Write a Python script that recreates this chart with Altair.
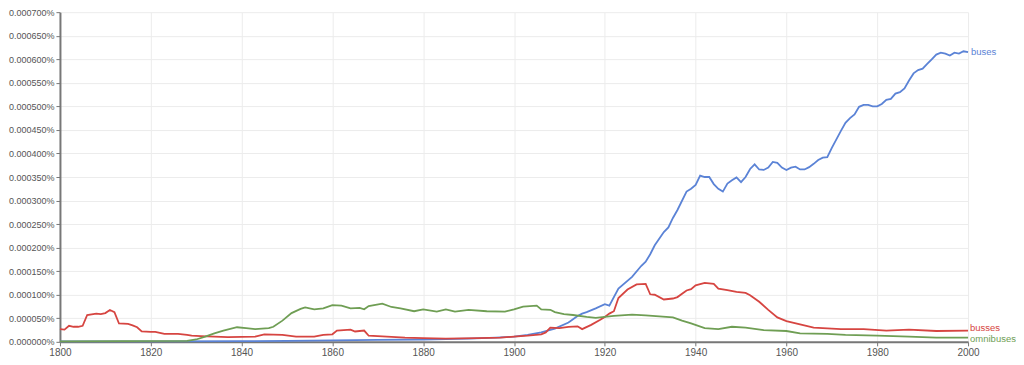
import altair as alt
import pandas as pd

# values in units of 0.00001 %
buses_years = [1800, 1820, 1840, 1850, 1860, 1870, 1880, 1890, 1896, 1900, 1903, 1906, 1909, 1912, 1914, 1915,
               1916, 1918, 1920, 1921, 1923, 1926, 1928, 1929, 1930, 1931, 1933, 1934, 1935, 1936, 1938, 1939,
               1940, 1941, 1942, 1943, 1944, 1945, 1946, 1947, 1948, 1949, 1950, 1951, 1952, 1953, 1954, 1955,
               1956, 1957, 1958, 1959, 1960, 1961, 1962, 1963, 1964, 1965, 1966, 1967, 1968, 1969, 1970, 1971,
               1972, 1973, 1974, 1975, 1976, 1977, 1978, 1979, 1980, 1981, 1982, 1983, 1984, 1985, 1986, 1987,
               1988, 1989, 1990, 1991, 1992, 1993, 1994, 1995, 1996, 1997, 1998, 1999, 2000]
buses_vals = [0.1, 0.1, 0.15, 0.2, 0.3, 0.4, 0.5, 0.7, 0.9, 1.1, 1.5, 2.0, 2.8, 4.1, 5.5, 6.0,
              6.3, 7.1, 8.0, 7.7, 11.3, 13.8, 16.1, 17.0, 18.6, 20.5, 23.3, 24.3, 26.3, 28.0, 31.9, 32.5,
              33.3, 35.3, 35.0, 35.0, 33.5, 32.5, 31.9, 33.6, 34.3, 34.9, 33.9, 35.0, 36.7, 37.7, 36.6, 36.5,
              37.0, 38.2, 38.0, 37.0, 36.5, 37.0, 37.2, 36.6, 36.6, 37.1, 37.8, 38.6, 39.1, 39.2, 41.2, 43.0,
              44.8, 46.5, 47.5, 48.3, 49.9, 50.3, 50.3, 50.0, 50.0, 50.5, 51.4, 51.6, 52.7, 53.0, 53.8, 55.5,
              57.0, 57.7, 58.0, 59.0, 60.0, 61.0, 61.4, 61.2, 60.8, 61.4, 61.2, 61.7, 61.5]

busses_years = [1800, 1801, 1802, 1803, 1804, 1805, 1806, 1808, 1809, 1810, 1811, 1812, 1813, 1815, 1816, 1817,
                1818, 1820, 1821, 1823, 1826, 1828, 1829, 1831, 1834, 1837, 1843, 1845, 1849, 1852, 1856, 1858,
                1860, 1861, 1864, 1865, 1867, 1868, 1872, 1876, 1880, 1885, 1892, 1897, 1900, 1903, 1906, 1907,
                1908, 1910, 1912, 1914, 1915, 1917, 1919, 1920, 1921, 1922, 1923, 1925, 1927, 1929, 1930, 1931,
                1933, 1935, 1936, 1938, 1939, 1940, 1942, 1944, 1945, 1947, 1949, 1951, 1952, 1954, 1956, 1958,
                1960, 1963, 1966, 1972, 1977, 1982, 1987, 1993, 2000]
busses_vals = [2.7, 2.6, 3.4, 3.2, 3.2, 3.4, 5.7, 6.0, 5.9, 6.1, 6.75, 6.3, 3.9, 3.8, 3.5, 3.1,
               2.2, 2.1, 2.1, 1.7, 1.7, 1.5, 1.3, 1.2, 1.1, 1.0, 1.1, 1.6, 1.5, 1.1, 1.1, 1.5,
               1.6, 2.4, 2.6, 2.2, 2.4, 1.3, 1.1, 0.9, 0.8, 0.7, 0.8, 0.9, 1.1, 1.3, 1.6, 2.0,
               3.0, 2.9, 3.2, 3.3, 2.7, 3.6, 4.7, 5.3, 6.0, 6.5, 9.3, 11.1, 12.2, 12.3, 10.1, 10.0,
               9.0, 9.2, 9.5, 10.9, 11.2, 12.0, 12.5, 12.3, 11.3, 11.0, 10.6, 10.4, 9.9, 8.5, 6.8, 5.2,
               4.4, 3.7, 3.0, 2.7, 2.7, 2.4, 2.6, 2.3, 2.4]

omni_years = [1800, 1828, 1830, 1832, 1834, 1836, 1839, 1841, 1843, 1846, 1847, 1849, 1851, 1853, 1854, 1856,
              1858, 1860, 1862, 1864, 1866, 1867, 1868, 1871, 1873, 1875, 1878, 1880, 1883, 1885, 1887, 1890,
              1894, 1898, 1900, 1902, 1905, 1906, 1908, 1909, 1911, 1913, 1916, 1918, 1920, 1922, 1926, 1929,
              1932, 1935, 1937, 1939, 1942, 1945, 1948, 1951, 1955, 1960, 1963, 1969, 1973, 1980, 1987, 1993, 2000]
omni_vals = [0.1, 0.2, 0.5, 1.1, 1.8, 2.4, 3.1, 2.9, 2.7, 2.9, 3.2, 4.5, 6.1, 7.0, 7.3, 6.9,
             7.1, 7.8, 7.7, 7.1, 7.2, 6.9, 7.6, 8.1, 7.4, 7.1, 6.5, 6.9, 6.4, 6.9, 6.4, 6.8,
             6.5, 6.4, 6.9, 7.5, 7.7, 6.9, 6.8, 6.3, 5.9, 5.7, 5.3, 5.1, 5.3, 5.5, 5.8, 5.6,
             5.4, 5.2, 4.5, 3.9, 2.9, 2.7, 3.2, 3.0, 2.5, 2.3, 1.8, 1.7, 1.5, 1.3, 1.1, 0.9, 0.9]

series_names = ["buses", "busses", "omnibuses"]
series_colors = ["#5b83d6", "#d64541", "#6f9e54"]
y_ticks = [i * 5 for i in range(15)]
x_ticks = [1800, 1820, 1840, 1860, 1880, 1900, 1920, 1940, 1960, 1980, 2000]

frames = []
for name, yrs, vals in [("buses", buses_years, buses_vals),
                        ("busses", busses_years, busses_vals),
                        ("omnibuses", omni_years, omni_vals)]:
    frames.append(pd.DataFrame({"year": yrs, "value": vals, "series": name}))
df = pd.concat(frames, ignore_index=True)

last = pd.DataFrame({
    "year": [buses_years[-1], busses_years[-1], omni_years[-1]],
    "value": [buses_vals[-1], busses_vals[-1], omni_vals[-1]],
    "series": series_names,
})

xscale = alt.Scale(domain=[1800, 2000], nice=False, zero=False)
yscale = alt.Scale(domain=[0, 70], nice=False)
cscale = alt.Scale(domain=series_names, range=series_colors)

xaxis = alt.Axis(values=x_ticks, format="d", labelFontSize=10, labelColor="#555",
                 domainColor="#777", domainWidth=2, tickColor="#777", tickSize=4,
                 gridColor="#ececec", labelPadding=2, labelOverlap=False, labelFlush=False)
yaxis = alt.Axis(values=y_ticks, labelFontSize=9, labelColor="#555",
                 labelExpr="format(datum.value / 100000, '.6f') + '%'",
                 domainColor="#777", domainWidth=2, tickColor="#777", tickSize=4,
                 gridColor="#ececec", labelPadding=2, labelOverlap=False, labelFlush=False)

X = alt.X("year:Q", scale=xscale, title=None, axis=xaxis)
Y = alt.Y("value:Q", scale=yscale, title=None, axis=yaxis)
C = alt.Color("series:N", scale=cscale, legend=None)

lines = alt.Chart(df).mark_line(strokeWidth=1.8).encode(x=X, y=Y, color=C)

def end_label(name, dx, dy):
    return alt.Chart(last[last["series"] == name]).mark_text(
        align="left", baseline="middle", dx=dx, dy=dy, fontSize=9.5).encode(
        x=X, y=Y, text="series:N", color=C)

chart = alt.layer(lines, end_label("buses", 3, 0), end_label("busses", 2, -3),
                  end_label("omnibuses", 2, 1)).properties(
    width=909, height=330,
    padding={"left": 0, "top": 0, "right": 0, "bottom": 0},
).configure(font="Liberation Sans").configure_view(stroke=None)

chart.save("out.html", embed_options={"renderer": "svg", "actions": False})
